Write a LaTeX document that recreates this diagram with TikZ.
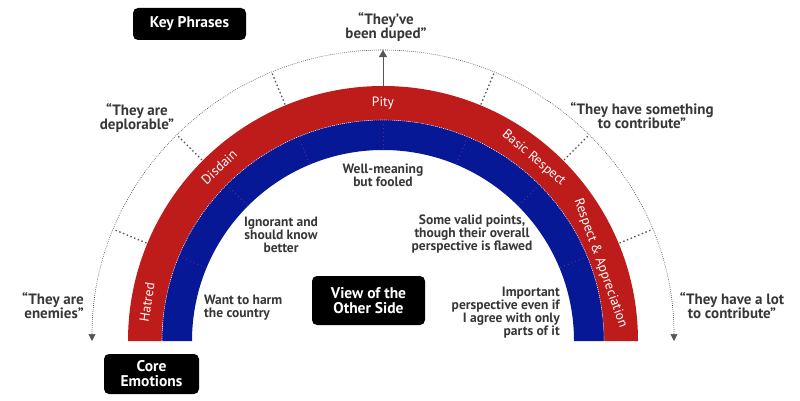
\documentclass[tikz,border=0pt]{standalone}
\usepackage{fontspec}
\setmainfont{PT Sans}
\usetikzlibrary{arrows.meta}
\definecolor{bandred}{RGB}{190,27,27}
\definecolor{bandblue}{RGB}{6,24,150}
\definecolor{txt}{RGB}{55,55,55}
\definecolor{tickgray}{RGB}{85,85,85}
\definecolor{divpurple}{RGB}{100,45,150}
\begin{document}
\begin{tikzpicture}[x=1pt,y=1pt,
  blackbox/.style={fill=black, rounded corners=5pt, text=white, font=\fontsize{15.5}{15}\selectfont\bfseries, align=center, inner sep=0pt},
  quote/.style={text=txt, font=\fontsize{15}{14}\selectfont\bfseries, align=center, inner sep=0pt},
  viewtext/.style={text=txt, font=\fontsize{13.5}{13}\selectfont\bfseries, inner sep=0pt},
  bandlabel/.style={text=white, font=\fontsize{13.5}{13}\selectfont, inner sep=0pt},
  ticks/.style={tickgray, line width=1.3pt, dash pattern=on 1.5pt off 2.5pt},
  guide/.style={tickgray, line width=0.6pt, dash pattern=on 0.8pt off 1.2pt},
  divider/.style={divpurple, line width=0.8pt, dash pattern=on 1pt off 3pt},
]
\useasboundingbox (0,0) rectangle (800,400);
\coordinate (C) at (383,59);
% bands
\fill[bandred] (128,59) arc[start angle=180,end angle=0,radius=255] -- (604,59) arc[start angle=0,end angle=180,radius=221] -- cycle;
\fill[bandblue] (162,59) arc[start angle=180,end angle=0,radius=221] -- (574,59) arc[start angle=0,end angle=180,radius=191] -- cycle;
\draw[white, line width=0.6pt, dash pattern=on 0.8pt off 1.2pt] (162,59) arc[start angle=180,end angle=0,radius=221];
% dividers in blue band
\foreach \a in {22.5,45,67.5,90,112.5,135,157.5}
  \draw[divider] ([shift={(\a:192)}]C) -- ([shift={(\a:220)}]C);
% ticks between bands and guide arc
\foreach \a in {22.5,45,67.5,112.5,135,157.5}
  \draw[ticks] ([shift={(\a:256)}]C) -- ([shift={(\a:290)}]C);
% guide arcs
\coordinate (top) at (383,350);
\coordinate (pitytop) at (383,314);
\draw[guide, -{Triangle[width=7pt,length=7pt]}] (top) arc[start angle=90,end angle=180,radius=291];
\draw[guide, -{Triangle[width=7pt,length=7pt]}] (top) arc[start angle=90,end angle=0,radius=291];
\draw[tickgray, line width=0.9pt, -{Triangle[width=8pt,length=7pt]}] (pitytop) -- (top);
% band labels
\node[bandlabel] (pity) at ([shift={(90:238)}]C) {Pity};
\node[bandlabel, rotate=43] (disdain) at ([shift={(133.3:239)}]C) {Disdain};
\node[bandlabel, rotate=81] (hatred) at ([shift={(170.7:239)}]C) {Hatred};
\node[bandlabel, rotate=-40] (basic) at ([shift={(50.5:237)}]C) {Basic Respect};
\node[bandlabel, rotate=-70.3] (apprec) at ([shift={(19.7:231)}]C) {Respect \& Appreciation};
% key phrases
\node[quote] (duped) at (386,373) {“They’ve\\been duped”};
\node[quote] (deplorable) at (137,282) {“They are\\deplorable”};
\node[quote] (something) at (642,284) {“They have something\\to contribute”};
\node[quote, align=right] (enemies) at (53,94) {“They are\\enemies”};
\node[quote] (alot) at (732,94) {“They have a lot\\to contribute”};
% views
\node[viewtext, align=center] (fooled) at (383,225) {Well-meaning\\but fooled};
\node[viewtext, align=center] (ignorant) at (281,165) {Ignorant and\\should know\\better};
\node[viewtext, align=left, anchor=west] (harm) at (204,92) {Want to harm\\the country};
\node[viewtext, align=center] (valid) at (472,166) {Some valid points,\\though their overall\\perspective is flawed};
\node[viewtext, align=right, anchor=east] (important) at (560,87) {Important\\perspective even if\\I agree with only\\parts of it};
% black boxes
\node[blackbox, minimum width=113pt, minimum height=32pt] (keyphrases) at (189.5,376) {Key Phrases};
\node[blackbox, minimum width=113pt, minimum height=49pt] (viewbox) at (368.5,99.5) {View of the\\Other Side};
\node[blackbox, minimum width=95pt, minimum height=40pt] (core) at (151.5,26) {Core\\Emotions};
\end{tikzpicture}
\end{document}
